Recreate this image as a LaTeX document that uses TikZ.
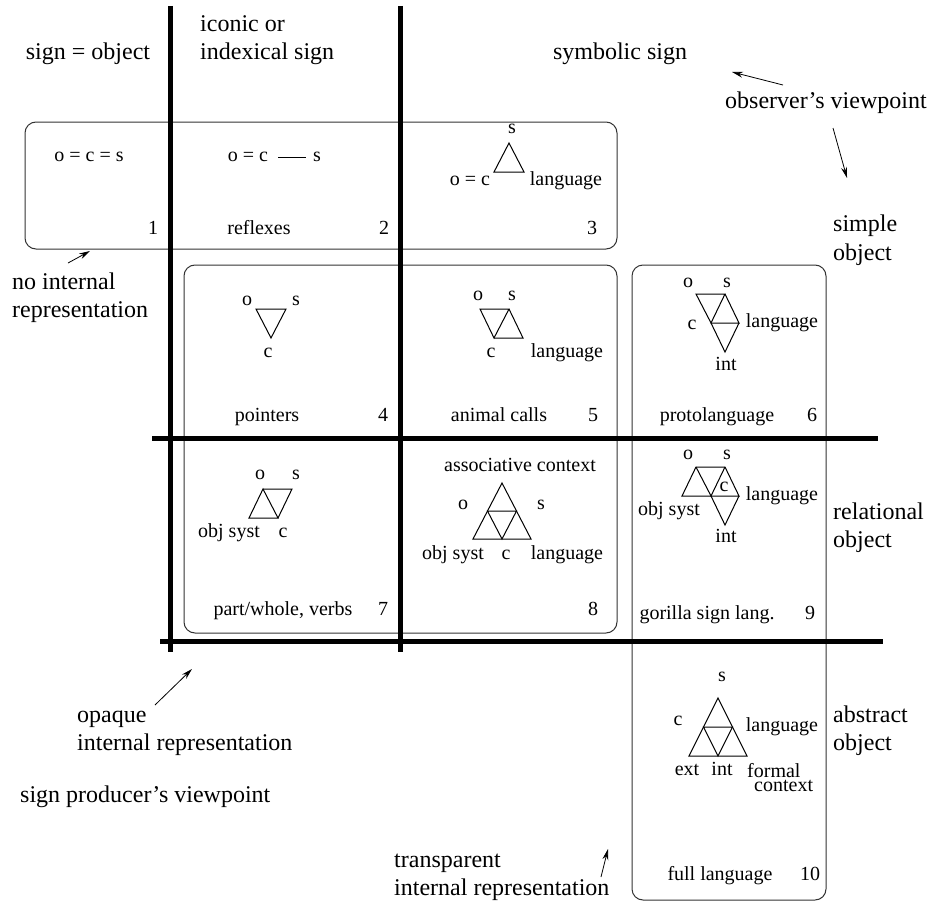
\documentclass[tikz,border=0pt]{standalone}
\usepackage{fontspec}
\setmainfont{Liberation Serif}
\usetikzlibrary{arrows.meta}
\begin{document}
\begin{tikzpicture}[x=1pt,y=-1pt,
  big/.style={font=\fontsize{24}{28}\selectfont, inner sep=0pt, anchor=mid west},
  sm/.style={font=\fontsize{20}{24}\selectfont, inner sep=0pt, anchor=mid},
  rule/.style={line width=5pt},
  cellbox/.style={draw=black!80, line width=1pt, rounded corners=11pt},
  tri/.style={line width=1pt, line join=miter},
  arr/.style={-{Stealth[length=11pt,width=6pt]}, line width=0.8pt}]
\useasboundingbox (0,0) rectangle (937,907);

% rounded boxes
\draw[cellbox] (25,122) rectangle (617,249);
\draw[cellbox] (184,265) rectangle (617,633);
\draw[cellbox] (632,265) rectangle (826,900);

% thick rules
\draw[rule] (170,6) -- (170,652);
\draw[rule] (400,6) -- (400,652);
\draw[rule] (152,438) -- (878,438);
\draw[rule] (160,641) -- (883,641);

% column headings
\node[big, anchor=mid] (hsign) at (88,57) {sign = object};
\node[big] (hicon1) at (200,29) {iconic or};
\node[big] (hicon2) at (200,57) {indexical sign};
\node[big, anchor=mid] (hsym) at (620,57) {symbolic sign};
\node[big] (hobs) at (725,106) {observer’s viewpoint};

% row headings
\node[big] (rsimple1) at (833,229) {simple};
\node[big] (rsimple2) at (833,258) {object};
\node[big] (rrel1) at (833,517) {relational};
\node[big] (rrel2) at (833,545) {object};
\node[big] (rabs1) at (833,720) {abstract};
\node[big] (rabs2) at (833,748) {object};

% other labels
\node[big] (noint1) at (12,287) {no internal};
\node[big] (noint2) at (12,315) {representation};
\node[big] (opq1) at (77,720) {opaque};
\node[big] (opq2) at (77,748) {internal representation};
\node[big] (prod) at (20,800) {sign producer’s viewpoint};
\node[big] (trn1) at (394,865) {transparent};
\node[big] (trn2) at (394,893) {internal representation};

% arrows
\coordinate (a1s) at (783,85);  \coordinate (a1e) at (732,72);
\coordinate (a2s) at (833,128); \coordinate (a2e) at (847,178);
\coordinate (a3s) at (68,263);  \coordinate (a3e) at (90,251);
\coordinate (a4s) at (155,705); \coordinate (a4e) at (192,669);
\coordinate (a5s) at (601,877); \coordinate (a5e) at (608,849);
\draw[arr] (a1s) -- (a1e);
\draw[arr] (a2s) -- (a2e);
\draw[arr] (a3s) -- (a3e);
\draw[arr] (a4s) -- (a4e);
\draw[arr] (a5s) -- (a5e);

% cell 1
\node[sm] (c1f) at (89,159) {o = c = s};
\node[sm] (c1n) at (153,232) {1};

% cell 2
\node[sm] (c2oc) at (248,159) {o = c};
\node[sm] (c2s) at (317,159) {s};
\coordinate (c2a) at (278,157); \coordinate (c2b) at (306,157);
\draw[tri] (c2a) -- (c2b);
\node[sm] (c2t) at (259,232) {reflexes};
\node[sm] (c2n) at (384,232) {2};

% cell 3
\node[sm] (c3s) at (512,131) {s};
\coordinate (c3A) at (509,143);
\coordinate (c3L) at (494,172);
\coordinate (c3R) at (524,172);
\draw[tri] (c3A) -- (c3L) -- (c3R) -- cycle;
\node[sm] (c3oc) at (470,183) {o = c};
\node[sm] (c3l) at (566,183) {language};
\node[sm] (c3n) at (592,232) {3};

% cell 4
\node[sm] (c4o) at (247,303) {o};
\node[sm] (c4s) at (296,303) {s};
\coordinate (c4L) at (256,309);
\coordinate (c4R) at (286,309);
\coordinate (c4B) at (271,338);
\draw[tri] (c4L) -- (c4R) -- (c4B) -- cycle;
\node[sm] (c4c) at (268,355) {c};
\node[sm] (c4t) at (267,419) {pointers};
\node[sm] (c4n) at (383,419) {4};

% cell 5
\node[sm] (c5o) at (478,298) {o};
\node[sm] (c5s) at (512,298) {s};
\coordinate (c5TL) at (480,309);
\coordinate (c5TR) at (509,309);
\coordinate (c5BL) at (494,338);
\coordinate (c5BR) at (523,338);
\draw[tri] (c5TL) -- (c5TR) -- (c5BL) -- cycle;
\draw[tri] (c5TR) -- (c5BR) -- (c5BL);
\node[sm] (c5c) at (491,355) {c};
\node[sm] (c5l) at (567,355) {language};
\node[sm] (c5t) at (499,419) {animal calls};
\node[sm] (c5n) at (593,419) {5};

% cell 6
\node[sm] (c6o) at (688,285) {o};
\node[sm] (c6s) at (727,285) {s};
\coordinate (c6TL) at (696,294);
\coordinate (c6TR) at (725,294);
\coordinate (c6ML) at (711,323);
\coordinate (c6MR) at (739,323);
\coordinate (c6B) at (725,352);
\draw[tri] (c6TL) -- (c6TR) -- (c6ML) -- cycle;
\draw[tri] (c6TR) -- (c6MR) -- (c6ML);
\draw[tri] (c6MR) -- (c6B) -- (c6ML);
\node[sm] (c6c) at (692,327) {c};
\node[sm] (c6l) at (782,325) {language};
\node[sm] (c6i) at (726,368) {int};
\node[sm] (c6t) at (717,419) {protolanguage};
\node[sm] (c6n) at (812,419) {6};

% cell 7
\node[sm] (c7o) at (260,477) {o};
\node[sm] (c7s) at (296,477) {s};
\coordinate (c7TL) at (263,489);
\coordinate (c7TR) at (292,489);
\coordinate (c7BL) at (249,518);
\coordinate (c7BR) at (278,518);
\draw[tri] (c7TL) -- (c7BL) -- (c7BR) -- cycle;
\draw[tri] (c7TL) -- (c7TR) -- (c7BR);
\node[sm] (c7os) at (229,535) {obj syst};
\node[sm] (c7c) at (283,535) {c};
\node[sm] (c7t) at (283,613) {part/whole, verbs};
\node[sm] (c7n) at (383,613) {7};

% cell 8
\node[sm] (c8ac) at (520,469) {associative context};
\coordinate (c8A) at (502,483);
\coordinate (c8BL) at (473,539);
\coordinate (c8BR) at (531,539);
\coordinate (c8ML) at (487.5,511);
\coordinate (c8MR) at (516.5,511);
\coordinate (c8BM) at (502,539);
\draw[tri] (c8A) -- (c8BL) -- (c8BR) -- cycle;
\draw[tri] (c8ML) -- (c8MR) -- (c8BM) -- cycle;
\node[sm] (c8o) at (463,507) {o};
\node[sm] (c8s) at (541,507) {s};
\node[sm] (c8os) at (453,557) {obj syst};
\node[sm] (c8c) at (506,557) {c};
\node[sm] (c8l) at (567,557) {language};
\node[sm] (c8n) at (593,613) {8};

% cell 9
\node[sm] (c9o) at (688,457) {o};
\node[sm] (c9s) at (727,457) {s};
\coordinate (c9TL) at (696,467);
\coordinate (c9TR) at (725,467);
\coordinate (c9L) at (682,496);
\coordinate (c9M) at (711,496);
\coordinate (c9R) at (739,496);
\coordinate (c9B) at (725,525);
\draw[tri] (c9TL) -- (c9L) -- (c9R) -- (c9TR) -- cycle;
\draw[tri] (c9TL) -- (c9M) -- (c9TR);
\draw[tri] (c9M) -- (c9B) -- (c9R);
\node[sm] (c9c) at (724,489) {c};
\node[sm] (c9os) at (669,513) {obj syst};
\node[sm] (c9l) at (782,498) {language};
\node[sm] (c9i) at (726,540) {int};
\node[sm] (c9t) at (707,617) {gorilla sign lang.};
\node[sm] (c9n) at (810,617) {9};

% cell 10
\node[sm] (c10s) at (722,679) {s};
\coordinate (c10A) at (718,698);
\coordinate (c10BL) at (689,756);
\coordinate (c10BR) at (747,756);
\coordinate (c10ML) at (703.5,727);
\coordinate (c10MR) at (732.5,727);
\coordinate (c10BM) at (718,756);
\draw[tri] (c10A) -- (c10BL) -- (c10BR) -- cycle;
\draw[tri] (c10ML) -- (c10MR) -- (c10BM) -- cycle;
\node[sm] (c10c) at (678,723) {c};
\node[sm] (c10l) at (782,729) {language};
\node[sm] (c10e) at (687,773) {ext};
\node[sm] (c10i) at (722,773) {int};
\node[sm, anchor=north west, align=left, font=\fontsize{20}{14}\selectfont]
  (c10fc) at (747,763) {formal\\\hspace*{7pt}context};
\node[sm] (c10t) at (720,878) {full language};
\node[sm] (c10n) at (810,878) {10};
\end{tikzpicture}
\end{document}
